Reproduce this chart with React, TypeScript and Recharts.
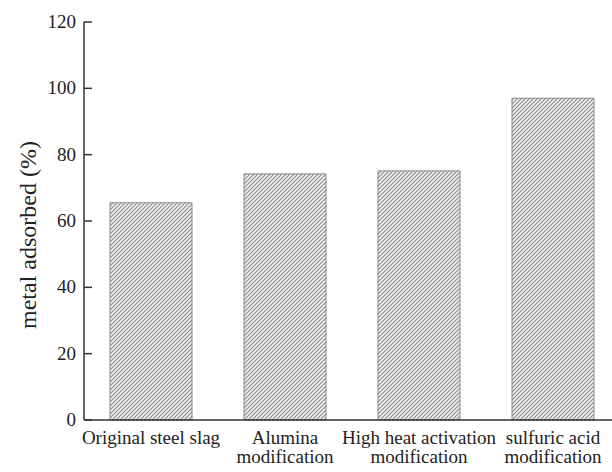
import React from 'react';
import { BarChart, Bar, XAxis, YAxis } from 'recharts';

const categories = [
  'Original steel slag',
  'Alumina\nmodification',
  'High heat activation\nmodification',
  'sulfuric acid\nmodification',
];
const adsorbed = [65.5, 74.2, 75.1, 97.0];
const yTicks = [0, 20, 40, 60, 80, 100, 120];

const data = categories.map((name, i) => ({ name, value: adsorbed[i] }));

const FONT = '"Liberation Serif", "Times New Roman", serif';

const YTick = (props: any) => {
  const { x, y, payload } = props;
  // x is 8px left of the axis line; tick marks point inward
  return (
    <g>
      <line x1={x + 8} x2={x + 16} y1={y} y2={y} stroke="#333" strokeWidth={1.5} />
      <text x={x} y={y} dy={6} textAnchor="end" fontFamily={FONT} fontSize={19} fill="#222">
        {payload.value}
      </text>
    </g>
  );
};

const XTick = (props: any) => {
  const { x, y, payload } = props;
  const lines = String(payload.value).split('\n');
  return (
    <text x={x} y={y} textAnchor="middle" fontFamily={FONT} fontSize={19} fill="#222">
      {lines.map((l, i) => (
        <tspan key={i} x={x} dy={i === 0 ? 16 : 19}>
          {l}
        </tspan>
      ))}
    </text>
  );
};

export default function App() {
  return (
    <div style={{ position: 'fixed', left: 0, top: 0, width: 612, height: 472, overflow: 'hidden', background: '#fff' }}>
      <BarChart
        width={620}
        height={472}
        data={data}
        margin={{ top: 22, right: 0, bottom: 0, left: 0 }}
        barSize={82}
      >
        <defs>
          <pattern id="hatch" patternUnits="userSpaceOnUse" width={4} height={4}>
            <rect width={4} height={4} fill="#f0f0f0" />
            <path d="M-1,1 l2,-2 M0,4 l4,-4 M3,5 l2,-2" stroke="#8c8c8c" strokeWidth={1.1} />
          </pattern>
        </defs>
        <XAxis
          dataKey="name"
          height={52}
          interval={0}
          tickLine={false}
          tick={<XTick />}
          axisLine={{ stroke: '#333', strokeWidth: 1.5 }}
        />
        <YAxis
          width={84}
          domain={[0, 120]}
          ticks={yTicks}
          tickLine={false}
          tick={<YTick />}
          axisLine={{ stroke: '#333', strokeWidth: 1.5 }}
          label={{
            value: 'metal adsorbed (%)',
            angle: -90,
            position: 'insideLeft',
            dx: 22,
            dy: 14,
            style: { fontFamily: FONT, fontSize: 24, fill: '#222', textAnchor: 'middle' },
          }}
        />
        <Bar dataKey="value" fill="url(#hatch)" stroke="#888" strokeWidth={1} isAnimationActive={false} />
      </BarChart>
    </div>
  );
}
